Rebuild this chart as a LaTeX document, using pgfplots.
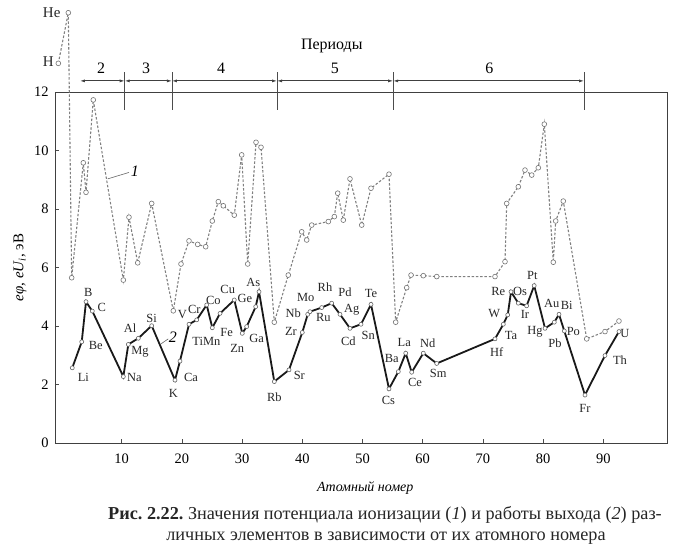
\documentclass[border=0pt]{standalone}
\usepackage{fontspec}
\setmainfont{Liberation Serif}
\usepackage{pgfplots}
\pgfplotsset{compat=1.18}
\usetikzlibrary{arrows.meta}

\begin{document}
\begin{tikzpicture}[
  lbl/.style={font=\fontsize{12.5}{13}\selectfont, inner sep=0pt, text=black!85},
  per/.style={black!75, line width=0.8bp, {Latex[length=5bp,width=3bp]}-{Latex[length=5bp,width=3bp]}},
]
\begin{axis}[
  scale only axis, width=612bp, height=351bp,
  xmin=-1.08, xmax=100.58, ymin=0, ymax=12,
  xtick={10,20,...,90}, ytick={0,2,...,12},
  tick pos=left, tick align=inside, major tick length=4bp,
  tick style={black!70, line width=0.6bp},
  axis line style={black!75, line width=0.8bp},
  clip=false,
  /pgf/number format/assume math mode=true,
  ticklabel style={font=\fontsize{14.5}{15}\selectfont},
  xticklabel style={yshift=-7bp},
  yticklabel style={xshift=-3bp},
  xlabel={\itshape Атомный номер},
  xlabel style={at={(axis description cs:0.507,-0.128)}, anchor=center, font=\fontsize{14}{15}\selectfont},
  ylabel={{\itshape eφ, eU\textsubscript{i}}, эВ},
  ylabel style={at={(axis description cs:-0.057,0.5)}, anchor=center, font=\fontsize{15}{16}\selectfont},
]
% 1 - ionization potential
\addplot[color=black!50, line width=1.1bp, dash pattern=on 2.5bp off 1.8bp,
  mark=*, mark size=2.4bp, mark options={solid, fill=white, draw=black!55, line width=0.6bp}]
  coordinates {
  (-0.53,12.98)(1.13,14.71)(1.69,5.65)(3.62,9.58)(4.07,8.57)(5.28,11.73)
  (10.27,5.57)(11.21,7.72)(12.66,6.16)(14.98,8.19)(18.57,4.52)(19.85,6.12)
  (21.18,6.91)(22.62,6.79)(23.95,6.71)(25.05,7.59)(26.05,8.25)(26.88,8.11)
  (28.7,7.79)(29.93,9.85)(30.93,6.12)(32.31,10.28)(33.14,10.11)(35.35,4.13)
  (37.67,5.74)(39.9,7.22)(40.73,6.94)(41.56,7.45)(44.32,7.57)(45.32,7.74)
  (45.88,8.54)(46.81,7.62)(47.92,9.03)(49.87,7.45)(51.41,8.71)(54.4,9.19)
  (55.51,4.13)(57.34,5.31)(58.06,5.74)(60.1,5.72)(62.33,5.69)(72.01,5.69)
  (73.67,6.2)(73.95,8.19)(75.88,8.76)(76.99,9.33)(78.11,9.16)(79.2,9.41)
  (80.2,10.9)(81.69,6.18)(82.09,7.59)(83.35,8.27)(87.24,3.56)(90.28,3.81)
  (92.6,4.17)
  };
% 2 - work function
\addplot[color=black!90, line width=1.8bp,
  mark=*, mark size=2bp, mark options={solid, fill=white, draw=black!60, line width=0.6bp}]
  coordinates {
  (1.79,2.57)(3.36,3.46)(4.07,4.83)(5.12,4.51)(10.27,2.27)(11.1,3.37)
  (12.76,3.58)(14.98,4.01)(18.85,2.15)(19.68,2.80)(21.18,4.06)(22.46,4.21)
  (24.12,4.72)(25.05,3.94)(26.33,4.43)(28.7,4.89)(30.03,3.75)(30.76,3.98)
  (32.26,4.66)(32.81,5.17)(35.35,2.10)(37.79,2.50)(40.0,3.78)(40.9,4.40)
  (41.28,4.49)(43.22,4.63)(44.88,4.78)(46.26,4.40)(47.92,3.92)(49.75,4.06)
  (51.41,4.74)(54.4,1.85)(55.95,2.44)(57.18,3.07)(58.17,2.42)(60.1,3.07)
  (62.33,2.72)(72.01,3.56)(73.39,4.06)(74.12,4.38)(74.67,5.17)(75.88,4.78)
  (77.26,4.69)(78.52,5.38)(80.32,3.92)(81.86,4.13)(82.64,4.40)(83.52,3.83)
  (86.96,1.64)(90.28,2.99)(92.6,3.81)
  };
% element names
\foreach \t/\x/\y in {Li/3.62/2.23, Be/5.68/3.33, B/4.45/5.15, C/6.68/4.63,
  Na/12.09/2.23, Mg/13.04/3.12, Al/11.38/3.92, Si/14.98/4.26, K/18.57/1.70,
  Ca/21.51/2.23, V/20.07/4.38, Ti/22.62/3.46, Cr/22.06/4.55, Co/25.22/4.89,
  Mn/24.95/3.46, Fe/27.44/3.77, Cu/27.61/5.26, Ge/30.48/4.95, Zn/29.2/3.24,
  Ga/32.43/3.56, As/31.86/5.48, Rb/35.35/1.58, Sr/39.5/2.32, Zr/38.12/3.81,
  Nb/38.5/4.42, Mo/40.56/4.99, Ru/43.49/4.30, Rh/43.77/5.32, Pd/47.09/5.17,
  Ag/48.21/4.54, Cd/47.64/3.49, Sn/50.96/3.67, Te/51.41/5.12, Ba/54.85/2.90,
  Cs/54.29/1.47, La/56.94/3.44, Ce/58.72/2.06, Nd/60.83/3.41, Sm/62.59/2.38,
  Hf/72.29/3.12, W/71.89/4.42, Re/72.56/5.17, Ta/74.67/3.66, Os/76.16/5.17,
  Ir/76.99/4.38, Pt/78.21/5.72, Hg/78.65/3.81, Au/81.43/4.78, Bi/83.92/4.72,
  Pb/81.98/3.41, Po/85.02/3.81, Fr/86.96/1.19, Th/92.77/2.84, U/93.6/3.75}{
  \edef\tmp{\noexpand\node[lbl] at (axis cs:\x,\y) {\t};}\tmp
}
\node[font=\fontsize{15}{16}\selectfont, text=black!85] at (axis cs:-1.63,14.71) {He};
\node[font=\fontsize{15}{16}\selectfont, text=black!85] at (axis cs:-2.19,13.04) {H};
% curve numbers
\draw[black!60, line width=0.6bp] (axis cs:7.67,9.03) -- (axis cs:11.21,9.25);
\node[font=\itshape\fontsize{16}{16}\selectfont] at (axis cs:12.2,9.3) {1};
\draw[black!60, line width=0.6bp] (axis cs:16.53,3.39) -- (axis cs:17.74,3.56);
\node[font=\itshape\fontsize{16}{16}\selectfont] at (axis cs:18.5,3.61) {2};
% periods
\draw[per] (axis cs:3.07,12.38) -- (axis cs:10.5,12.38);
\draw[per] (axis cs:10.5,12.38) -- (axis cs:18.35,12.38);
\draw[per] (axis cs:18.35,12.38) -- (axis cs:35.8,12.38);
\draw[per] (axis cs:35.8,12.38) -- (axis cs:55.1,12.38);
\draw[per] (axis cs:55.1,12.38) -- (axis cs:86.8,12.38);
\foreach \x in {10.5,18.35,35.8,55.1,86.8}{
  \edef\tmp{\noexpand\draw[black!70, line width=0.6bp] (axis cs:\x,12.68) -- (axis cs:\x,11.38);}\tmp
}
\foreach \t/\x in {2/6.56, 3/14.04, 4/26.5, 5/45.4, 6/71.06}{
  \edef\tmp{\noexpand\node[font=\noexpand\fontsize{16}{16}\noexpand\selectfont] at (axis cs:\x,12.82) {\t};}\tmp
}
\node[font=\fontsize{16}{16}\selectfont] at (axis cs:44.9,13.57) {Периоды};
\end{axis}
\node[font=\fontsize{18.3}{23}\selectfont, text=black!85]
  at ([xshift=330bp,yshift=-72bp]current axis.south west)
  {\frenchspacing\textbf{Рис. 2.22.} Значения потенциала ионизации (\textit{1}) и работы выхода (\textit{2}) раз-};
\node[font=\fontsize{18.3}{23}\selectfont, text=black!85]
  at ([xshift=331bp,yshift=-95bp]current axis.south west)
  {личных элементов в зависимости от их атомного номера};
\pgfresetboundingbox
\path ([xshift=-55bp,yshift=-117bp]current axis.south west) rectangle ++(691bp,560bp);
\end{tikzpicture}
\end{document}
